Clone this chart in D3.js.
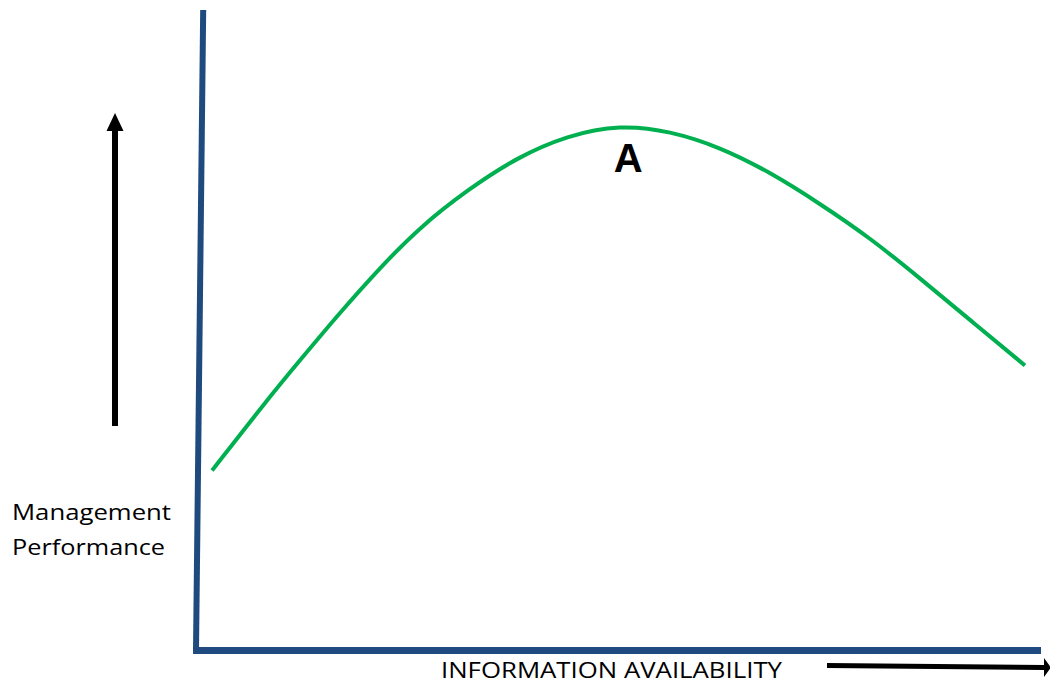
<!DOCTYPE html>
<html>
<head>
<meta charset="utf-8">
<script src="https://cdn.jsdelivr.net/npm/d3@7"></script>
<style>
  body { margin: 0; background: #fff; }
  svg { display: block; }
</style>
</head>
<body>
<div class="chart"></div>
<script>
// curve (x = information availability, y = performance, both 0-100)
const infoAvail = [1.9, 8.4, 12.3, 17.0, 21.8, 26.5, 32.1, 38.0, 43.9, 50.2, 56.1, 62.0, 67.9, 73.8, 79.8, 85.7, 91.6, 98.1];
const perfValues = [28.1, 39.1, 45.3, 52.7, 59.8, 66.1, 71.9, 77.0, 80.4, 82.1, 81.1, 78.6, 74.7, 69.8, 64.4, 58.1, 51.6, 44.5];
const peakLabel = "A";
const yTitle = ["Management", "Performance"];
const xTitle = "INFORMATION AVAILABILITY";

const width = 1050, height = 684;
const svg = d3.select(".chart")
    .append("svg")
    .attr("width", width)
    .attr("height", height);

// scales
const x = d3.scaleLinear().domain([0, 100]).range([196, 1041]);
const y = d3.scaleLinear().domain([0, 100]).range([650.5, 10]);

const line = d3.line()
    .x(d => x(d[0]))
    .y(d => y(d[1]));

// axes (hand-drawn look: y axis leans a little)
const axisColor = "#1f4a7f";
svg.append("path")
    .attr("d", line([[0.85, 100], [0, 0]]))
    .attr("stroke", axisColor)
    .attr("stroke-width", 6)
    .attr("fill", "none");
svg.append("path")
    .attr("d", line([[-0.35, 0], [100, 0]]))
    .attr("stroke", axisColor)
    .attr("stroke-width", 7)
    .attr("fill", "none");

// curve - basis smooths out reading noise
const pts = infoAvail.map((v, i) => [v, perfValues[i]]);
const smooth = d3.line()
    .x(d => x(d[0]))
    .y(d => y(d[1]))
    .curve(d3.curveBasis);
svg.append("path")
    .attr("d", smooth(pts))
    .attr("stroke", "#00b050")
    .attr("stroke-width", 4)
    .attr("fill", "none");

// peak label
const peak = pts[d3.maxIndex(pts, d => d[1])];
svg.append("text")
    .attr("x", x(peak[0]) + 8)
    .attr("y", y(peak[1]) + 47)
    .attr("text-anchor", "middle")
    .attr("font-family", "Liberation Sans, Arial, sans-serif")
    .attr("font-weight", "bold")
    .attr("font-size", 40)
    .text(peakLabel);

// up arrow
svg.append("line")
    .attr("x1", 115).attr("y1", 426)
    .attr("x2", 115).attr("y2", 126)
    .attr("stroke", "#000")
    .attr("stroke-width", 6);
svg.append("path")
    .attr("d", "M115,113 L106.5,131 L123.5,131 Z")
    .attr("fill", "#000");

// right arrow
svg.append("line")
    .attr("x1", 827).attr("y1", 665.5)
    .attr("x2", 1044).attr("y2", 667.5)
    .attr("stroke", "#000")
    .attr("stroke-width", 5);
svg.append("path")
    .attr("d", "M1051,667.5 L1044,658 L1044,677 Z")
    .attr("fill", "#000");

// titles
svg.selectAll(".ytitle")
    .data(yTitle)
    .enter()
    .append("text")
    .attr("class", "ytitle")
    .attr("x", 12)
    .attr("y", (d, i) => 520 + i * 35)
    .attr("font-family", "Open Sans, sans-serif")
    .attr("font-size", 22)
    .attr("textLength", (d, i) => i === 0 ? 159 : 153)
    .attr("lengthAdjust", "spacingAndGlyphs")
    .text(d => d);

svg.append("text")
    .attr("x", 441)
    .attr("y", 678)
    .attr("font-family", "Open Sans, sans-serif")
    .attr("font-size", 21)
    .attr("textLength", 341)
    .attr("lengthAdjust", "spacingAndGlyphs")
    .text(xTitle);
</script>
</body>
</html>
